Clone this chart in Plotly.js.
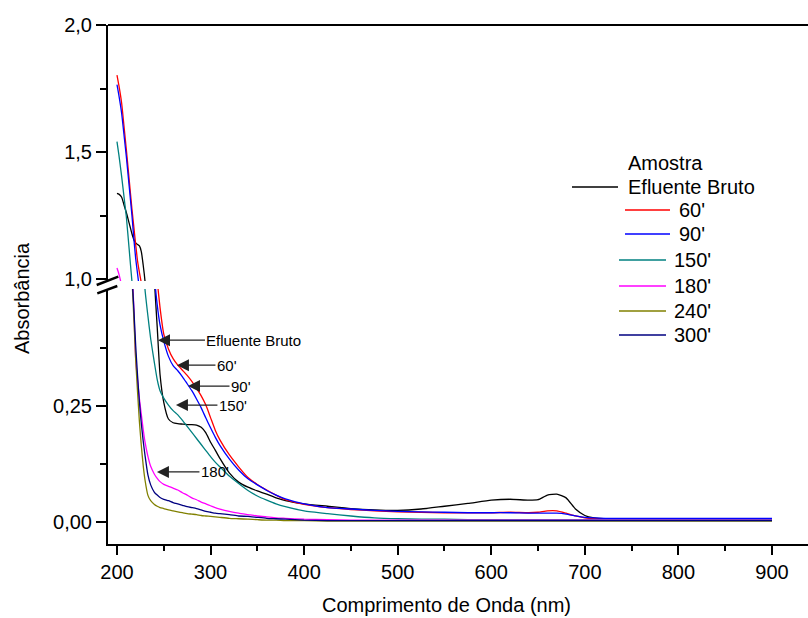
<!DOCTYPE html>
<html>
<head>
<meta charset="utf-8">
<script src="https://cdn.plot.ly/plotly-3.0.1.min.js"></script>
<style>
  html, body { margin: 0; padding: 0; background: #ffffff; }
  #chart { width: 808px; height: 618px; }
</style>
</head>
<body>
<div id="chart"></div>
<script>
// Wavelength grid (nm) shared by every spectrum
const wavelength = [
  200, 202, 205, 208, 210, 213, 216, 218, 220, 222,
  224, 226, 228, 230, 233, 236, 240, 243, 246, 250,
  255, 260, 265, 270, 275, 280, 285, 290, 295, 300,
  305, 310, 320, 330, 340, 350, 360, 370, 380, 400,
  425, 450, 475, 500, 525, 550, 575, 600, 620, 640,
  650, 660, 670, 680, 690, 700, 710, 725, 750, 800,
  850, 900
];

// Absorbance of each sample
const efluenteBruto = [
  1.337, 1.334, 1.322, 1.285, 1.262, 1.220, 1.178, 1.155, 1.142, 1.136,
  1.130, 1.108, 1.055, 0.990, 0.850, 0.700, 0.520, 0.420, 0.318, 0.258,
  0.222, 0.214, 0.212, 0.211, 0.210, 0.210, 0.209, 0.204, 0.192, 0.172,
  0.155, 0.137, 0.106, 0.086, 0.075, 0.067, 0.060, 0.052, 0.046, 0.039,
  0.034, 0.029, 0.026, 0.025, 0.028, 0.034, 0.040, 0.047, 0.049, 0.047,
  0.048, 0.058, 0.060, 0.052, 0.028, 0.014, 0.009, 0.007, 0.006, 0.006,
  0.006, 0.006
];
const abs60 = [
  1.803, 1.763, 1.692, 1.583, 1.510, 1.392, 1.275, 1.205, 1.135, 1.070,
  1.025, 0.985, 0.930, 0.870, 0.780, 0.700, 0.590, 0.520, 0.462, 0.405,
  0.373, 0.352, 0.338, 0.327, 0.316, 0.303, 0.288, 0.272, 0.252, 0.225,
  0.198, 0.177, 0.145, 0.119, 0.096, 0.081, 0.069, 0.058, 0.048, 0.038,
  0.031, 0.027, 0.024, 0.022, 0.021, 0.020, 0.020, 0.020, 0.021, 0.020,
  0.021, 0.024, 0.024, 0.019, 0.013, 0.009, 0.007, 0.006, 0.005, 0.005,
  0.005, 0.005
];
const abs90 = [
  1.765, 1.724, 1.652, 1.550, 1.482, 1.366, 1.250, 1.160, 1.080, 1.020,
  0.960, 0.905, 0.850, 0.800, 0.720, 0.635, 0.530, 0.468, 0.425, 0.390,
  0.357, 0.337, 0.326, 0.313, 0.298, 0.283, 0.265, 0.246, 0.224, 0.203,
  0.183, 0.165, 0.136, 0.112, 0.093, 0.080, 0.068, 0.058, 0.050, 0.039,
  0.031, 0.028, 0.025, 0.023, 0.022, 0.021, 0.020, 0.020, 0.020, 0.019,
  0.019, 0.019, 0.019, 0.017, 0.013, 0.010, 0.009, 0.008, 0.008, 0.008,
  0.008, 0.008
];
const abs150 = [
  1.541, 1.490, 1.403, 1.308, 1.245, 1.118, 0.990, 0.930, 0.860, 0.790,
  0.715, 0.640, 0.570, 0.500, 0.445, 0.395, 0.343, 0.307, 0.283, 0.267,
  0.252, 0.240, 0.231, 0.219, 0.206, 0.193, 0.180, 0.167, 0.154, 0.141,
  0.129, 0.119, 0.099, 0.083, 0.068, 0.056, 0.047, 0.039, 0.033, 0.024,
  0.018, 0.013, 0.009, 0.007, 0.006, 0.006, 0.005, 0.005, 0.005, 0.005,
  0.005, 0.005, 0.005, 0.005, 0.005, 0.005, 0.005, 0.005, 0.005, 0.005,
  0.005, 0.005
];
const abs180 = [
  1.043, 1.020, 0.970, 0.860, 0.780, 0.660, 0.560, 0.460, 0.350, 0.305,
  0.265, 0.232, 0.200, 0.172, 0.142, 0.120, 0.103, 0.094, 0.087, 0.081,
  0.077, 0.073, 0.069, 0.063, 0.058, 0.052, 0.048, 0.043, 0.039, 0.035,
  0.031, 0.028, 0.023, 0.019, 0.016, 0.013, 0.011, 0.009, 0.008, 0.006,
  0.005, 0.004, 0.004, 0.004, 0.004, 0.004, 0.004, 0.004, 0.004, 0.004,
  0.004, 0.004, 0.004, 0.004, 0.004, 0.004, 0.004, 0.004, 0.004, 0.004,
  0.004, 0.004
];
const abs240 = [
  0.950, 0.910, 0.840, 0.750, 0.690, 0.600, 0.525, 0.440, 0.350, 0.280,
  0.215, 0.165, 0.122, 0.090, 0.058, 0.046, 0.038, 0.034, 0.031, 0.029,
  0.026, 0.024, 0.022, 0.020, 0.018, 0.017, 0.016, 0.014, 0.013, 0.012,
  0.011, 0.010, 0.008, 0.007, 0.006, 0.005, 0.004, 0.004, 0.003, 0.003,
  0.002, 0.002, 0.002, 0.002, 0.002, 0.002, 0.002, 0.002, 0.002, 0.002,
  0.002, 0.002, 0.002, 0.002, 0.002, 0.002, 0.002, 0.002, 0.002, 0.002,
  0.002, 0.002
];
const abs300 = [
  0.960, 0.920, 0.850, 0.760, 0.700, 0.610, 0.530, 0.460, 0.380, 0.315,
  0.258, 0.212, 0.175, 0.143, 0.102, 0.080, 0.064, 0.058, 0.053, 0.049,
  0.046, 0.042, 0.039, 0.036, 0.033, 0.031, 0.029, 0.026, 0.023, 0.021,
  0.019, 0.018, 0.016, 0.013, 0.012, 0.010, 0.008, 0.007, 0.006, 0.004,
  0.003, 0.003, 0.003, 0.003, 0.003, 0.003, 0.003, 0.003, 0.003, 0.003,
  0.003, 0.003, 0.003, 0.003, 0.003, 0.003, 0.003, 0.003, 0.003, 0.003,
  0.003, 0.003
];

const seriesNames = ["Efluente Bruto", "60'", "90'", "150'", "180'", "240'", "300'"];
const seriesValues = [efluenteBruto, abs60, abs90, abs150, abs180, abs240, abs300];
const seriesColors = ["#000000", "#ff0000", "#0000ff", "#008080", "#ff00ff", "#808000", "#000080"];

// Axis ticks (decimal comma labels)
const xTickVals = [200, 300, 400, 500, 600, 700, 800, 900];
const xTickText = ["200", "300", "400", "500", "600", "700", "800", "900"];
const xMinorVals = [250, 350, 450, 550, 650, 750, 850];
const yLowTickVals = [0, 0.25];
const yLowTickText = ["0,00", "0,25"];
const yLowMinorVals = [0.125, 0.375];
const yHighTickVals = [1.0, 1.5, 2.0];
const yHighTickText = ["1,0", "1,5", "2,0"];
const yHighMinorVals = [1.25, 1.75];

// Arrow callouts on the lower panel: label, wavelength, absorbance
const calloutLabels = ["Efluente Bruto", "60'", "90'", "150'", "180'"];
const calloutX = [243.8, 264.1, 275.9, 263.0, 242.7];
const calloutY = [0.392, 0.338, 0.293, 0.252, 0.108];

// ---- page geometry ----
const W = 808, H = 618;
const M = { l: 108, r: 0, t: 25, b: 74 };
const PW = W - M.l - M.r, PH = H - M.t - M.b;
const px2x = p => (p - M.l) / PW;          // page pixel -> paper x
const px2y = p => (H - M.b - p) / PH;      // page pixel -> paper y

const FONT = '"Liberation Sans", Arial, sans-serif';
const BREAK_LOW_TOP = 289, BREAK_HIGH_BOTTOM = 281;

// every spectrum is drawn in both panels of the broken axis
const traces = [];
seriesNames.forEach((name, i) => {
  ["y", "y2"].forEach(ax => {
    traces.push({
      type: "scatter", mode: "lines", name: name,
      x: wavelength, y: seriesValues[i], yaxis: ax, xaxis: "x",
      line: { color: seriesColors[i], width: 1.3, shape: "spline", smoothing: 0.5 },
      showlegend: false, hoverinfo: "skip"
    });
  });
});

const axisCommon = {
  showgrid: false, zeroline: false, showline: true,
  linecolor: "#000", linewidth: 2,
  ticks: "outside", tickcolor: "#000", tickwidth: 2,
  tickfont: { family: FONT, size: 20, color: "#000" }
};

const layout = {
  width: W, height: H, margin: M,
  paper_bgcolor: "#ffffff", plot_bgcolor: "#ffffff",
  showlegend: false,
  font: { family: FONT, color: "#000" },
  xaxis: Object.assign({}, axisCommon, {
    anchor: "y", range: [190.4, 938.5],
    tickmode: "array", tickvals: xTickVals, ticktext: xTickText, ticklen: 9,
    minor: { tickvals: xMinorVals, ticks: "outside", ticklen: 5, tickwidth: 2, tickcolor: "#000", showgrid: false }
  }),
  yaxis: Object.assign({}, axisCommon, {
    anchor: "x", domain: [0, px2y(BREAK_LOW_TOP)], range: [-0.0474, 0.5022],
    tickmode: "array", tickvals: yLowTickVals, ticktext: yLowTickText, ticklen: 10,
    minor: { tickvals: yLowMinorVals, ticks: "outside", ticklen: 6, tickwidth: 2, tickcolor: "#000", showgrid: false }
  }),
  yaxis2: Object.assign({}, axisCommon, {
    anchor: "x", domain: [px2y(BREAK_HIGH_BOTTOM), 1], range: [0.9921, 2.0],
    tickmode: "array", tickvals: yHighTickVals, ticktext: yHighTickText, ticklen: 10,
    minor: { tickvals: yHighMinorVals, ticks: "outside", ticklen: 6, tickwidth: 2, tickcolor: "#000", showgrid: false }
  }),
  shapes: [],
  annotations: []
};

// top frame line
layout.shapes.push({ type: "line", xref: "paper", yref: "paper", x0: 0, x1: 1, y0: 1, y1: 1,
  line: { color: "#000", width: 2 } });
// axis-break slashes
[[96.7, 285, 118.3, 276.7], [97.3, 293.3, 117.3, 286]].forEach(s => {
  layout.shapes.push({ type: "line", xref: "paper", yref: "paper",
    x0: px2x(s[0]), y0: px2y(s[1]), x1: px2x(s[2]), y1: px2y(s[3]),
    line: { color: "#000", width: 2.5 } });
});

// axis titles
layout.annotations.push({ xref: "paper", yref: "paper", x: px2x(446), y: px2y(605),
  text: "Comprimento de Onda (nm)", showarrow: false, xanchor: "center", yanchor: "middle",
  font: { family: FONT, size: 20, color: "#000" } });
layout.annotations.push({ xref: "paper", yref: "paper", x: px2x(22), y: px2y(298),
  text: "Absorbância", textangle: -90, showarrow: false, xanchor: "center", yanchor: "middle",
  font: { family: FONT, size: 20, color: "#000" } });

// arrow callouts
const calloutShift = [96, 50, 53, 57, 58];
calloutLabels.forEach((t, i) => {
  layout.annotations.push({ xref: "x", yref: "y", x: calloutX[i], y: calloutY[i],
    text: t, showarrow: true, ax: calloutShift[i], ay: 0,
    arrowhead: 2, arrowsize: 2, arrowwidth: 1.2, arrowcolor: "#222",
    font: { family: FONT, size: 15, color: "#000" } });
});

// legend block
layout.annotations.push({ xref: "paper", yref: "paper", x: px2x(626), y: px2y(163),
  text: "Amostra", showarrow: false, xanchor: "left", yanchor: "middle",
  font: { family: FONT, size: 20, color: "#000" } });
const legendRows = [
  [572, 618, 626, 187], [625, 670, 677, 210], [625, 670, 677, 234],
  [619, 666, 672, 260], [619, 666, 672, 286], [619, 666, 672, 311], [619, 666, 672, 335]
];
seriesNames.forEach((name, i) => {
  const r = legendRows[i];
  layout.shapes.push({ type: "line", xref: "paper", yref: "paper",
    x0: px2x(r[0]), x1: px2x(r[1]), y0: px2y(r[3]), y1: px2y(r[3]),
    line: { color: seriesColors[i], width: 1.3 } });
  layout.annotations.push({ xref: "paper", yref: "paper", x: px2x(r[2]), y: px2y(r[3]),
    text: name, showarrow: false, xanchor: "left", yanchor: "middle",
    font: { family: FONT, size: 20, color: "#000" } });
});

Plotly.newPlot("chart", traces, layout, { staticPlot: true, displayModeBar: false });
</script>
</body>
</html>
